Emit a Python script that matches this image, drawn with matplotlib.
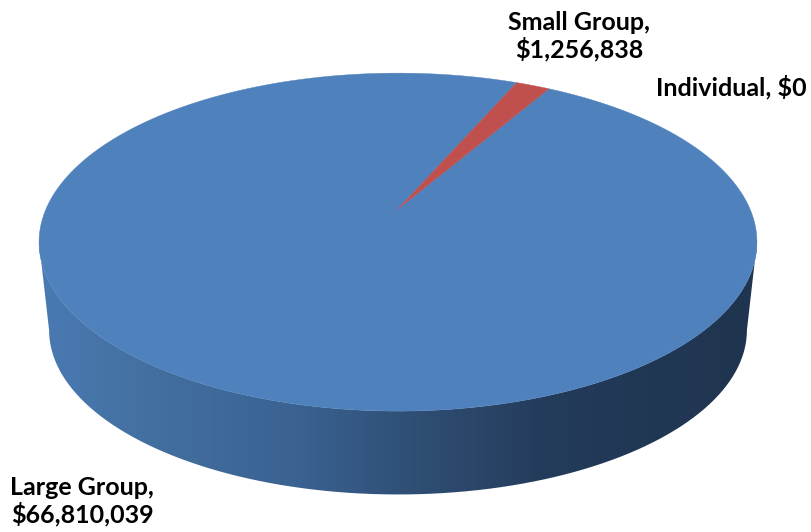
import numpy as np
import matplotlib.pyplot as plt
from matplotlib.colors import LinearSegmentedColormap
from matplotlib.patches import PathPatch
from matplotlib.path import Path

# Data
categories = ['Large Group', 'Small Group', 'Individual']
values = [66810039, 1256838, 0]
labels = ['Large Group,\n$66,810,039', 'Small Group,\n$1,256,838', 'Individual, $0']

plt.rcParams['font.family'] = ['Lato', 'DejaVu Sans']

# Perspective of the disc, in pixels of the picture
cx, cy = 398, 209
k = 0.196
A = 162.5
B = 352.0
start_angle = 59.9  # degrees, slices run clockwise from here
shrink = 0.972
drop = 89


def project(theta):
    s = np.sin(theta)
    c = np.cos(theta)
    return B * c / (1 + k * s), A * s / (1 + k * s)


def top_rim(theta):
    x, y = project(theta)
    return cx + x, cy - y


def bottom_rim(theta):
    x, y = project(theta)
    return cx + shrink * x, cy + drop - shrink * y


fig = plt.figure(figsize=(8.12, 5.32), dpi=100)
ax = fig.add_axes([0, 0, 1, 1])
ax.set_xlim(0, 812)
ax.set_ylim(532, 0)
ax.axis('off')

# Side wall: gradient clipped to the outline between the two rims
widest = np.arcsin(-k)
front = np.linspace(np.pi - widest, 2 * np.pi + widest, 300)
tx, ty = top_rim(front)
bx, by = bottom_rim(front[::-1])
wall_x = np.concatenate([tx, bx])
wall_y = np.concatenate([ty, by])
wall = PathPatch(Path(np.column_stack([wall_x, wall_y])), fc='none', ec='none')
ax.add_patch(wall)

stops = [(0.0, '#4a7ab4'), (0.15, '#43709f'), (0.36, '#3a6292'), (0.52, '#2f4f75'),
         (0.68, '#263f5f'), (0.70, '#233c5b'), (1.0, '#1f344e')]
wall_cmap = LinearSegmentedColormap.from_list('wall', stops)
grad = np.linspace(0, 1, 512).reshape(1, -1)
im = ax.imshow(grad, cmap=wall_cmap, extent=[38, 757, 500, 230], aspect='auto', zorder=1)
im.set_clip_path(wall)
ax.set_xlim(0, 812)
ax.set_ylim(532, 0)

# Top face: one polygon per slice, sized from the values
fractions = np.array(values) / sum(values)
colors = ['#4f81bd', '#c0504d', '#9bbb59']
angle = np.radians(start_angle)
for frac, col in zip(fractions, colors):
    if frac == 0:
        continue
    theta = np.linspace(angle, angle - frac * 2 * np.pi, 500)
    x, y = top_rim(theta)
    ax.fill(np.r_[cx, x], np.r_[cy, y], color=col, lw=0.3, zorder=2)
    angle -= frac * 2 * np.pi

# Data labels
label_style = dict(fontsize=18, fontweight='bold', color='black', ha='center',
                   va='center', linespacing=1.12)
ax.text(82, 501, labels[0], **label_style)
ax.text(579, 36, labels[1], **label_style)
ax.text(731, 87, labels[2], **label_style)

fig.savefig('out.png', dpi=100)
